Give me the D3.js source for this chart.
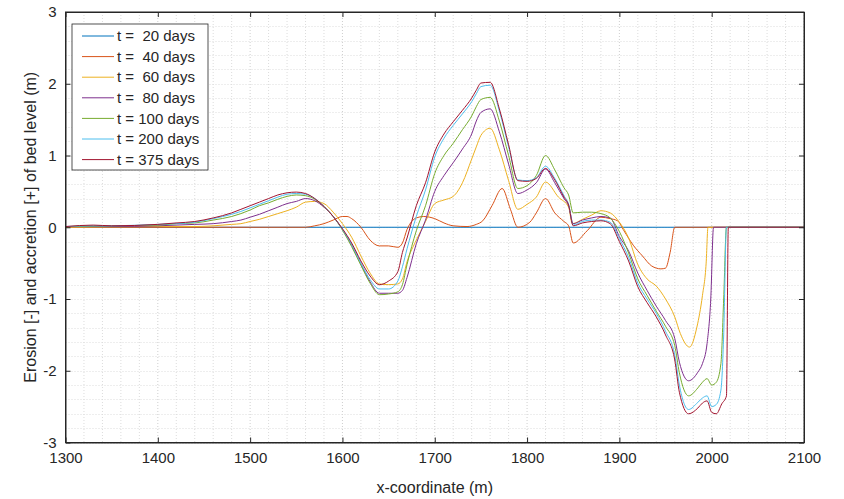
<!DOCTYPE html>
<html>
<head>
<meta charset="utf-8">
<script src="https://cdn.jsdelivr.net/npm/d3@7"></script>
<style>
  body { margin: 0; background: #fff; }
  text { font-family: "Liberation Sans", Arial, sans-serif; fill: #262626; }
</style>
</head>
<body>
<div id="chart"></div>
<script>
// ---- data ----
const labels = ["t =  20 days", "t =  40 days", "t =  60 days", "t =  80 days", "t = 100 days", "t = 200 days", "t = 375 days"];
const colors = ["#0072BD", "#D95319", "#EDB120", "#7E2F8E", "#77AC30", "#4DBEEE", "#A2142F"];

const xTicks = [1300, 1400, 1500, 1600, 1700, 1800, 1900, 2000, 2100];
const yTicks = [-3, -2, -1, 0, 1, 2, 3];

// t = 20 days: flat
const t20 = [[1300, 0], [2100, 0]];

// t = 40 days
const t40 = [[1300, 0], [1560, 0], [1570, 0.02], [1580, 0.05], [1590, 0.10], [1600, 0.15], [1605, 0.15],
  [1610, 0.12], [1620, 0.0], [1630, -0.18], [1640, -0.26], [1650, -0.26], [1660, -0.28], [1665, -0.22],
  [1670, -0.03], [1675, 0.08], [1680, 0.13], [1688, 0.15], [1700, 0.12], [1710, 0.06], [1720, 0.02],
  [1735, 0.01], [1745, 0.04], [1752, 0.09], [1762, 0.30], [1773, 0.54], [1782, 0.25], [1790, 0.0],
  [1803, 0.07], [1810, 0.20], [1820, 0.40], [1830, 0.20], [1840, 0.08], [1845, 0.02], [1850, -0.22],
  [1865, -0.05], [1880, 0.14], [1890, 0.12], [1898, 0.09], [1905, -0.05], [1915, -0.25], [1925, -0.40],
  [1935, -0.54], [1945, -0.58], [1950, -0.57], [1955, -0.35], [1960, 0], [2100, 0]];

// t = 60 days
const t60 = [[1300, 0], [1400, 0.01], [1440, 0.01], [1460, 0.02], [1480, 0.04], [1490, 0.05], [1500, 0.08],
  [1510, 0.11], [1520, 0.15], [1530, 0.19], [1540, 0.23], [1550, 0.28], [1560, 0.35], [1570, 0.36],
  [1580, 0.33], [1590, 0.21], [1600, 0.05], [1610, -0.14], [1620, -0.40], [1630, -0.64], [1640, -0.79],
  [1650, -0.80], [1660, -0.79], [1665, -0.72], [1670, -0.48], [1680, -0.18], [1690, 0.08], [1700, 0.33],
  [1710, 0.38], [1720, 0.43], [1730, 0.62], [1740, 0.95], [1745, 1.12], [1750, 1.28], [1760, 1.38],
  [1770, 1.08], [1780, 0.65], [1790, 0.25], [1800, 0.32], [1810, 0.42], [1820, 0.63], [1834, 0.42],
  [1845, 0.28], [1849, 0.05], [1860, 0.11], [1870, 0.17], [1880, 0.23], [1890, 0.20], [1900, 0.07],
  [1910, -0.15], [1920, -0.52], [1930, -0.72], [1940, -0.82], [1950, -1.00], [1960, -1.25],
  [1966, -1.48], [1976, -1.67], [1984, -1.39], [1990, -0.95], [1994, -0.50], [1996, 0], [2100, 0]];

// t = 80 days
const t80 = [[1300, 0.01], [1350, 0.01], [1400, 0.02], [1420, 0.03], [1440, 0.04], [1460, 0.05], [1480, 0.08],
  [1490, 0.10], [1500, 0.14], [1510, 0.18], [1520, 0.23], [1530, 0.28], [1540, 0.33], [1550, 0.36],
  [1560, 0.40], [1570, 0.37], [1580, 0.28], [1590, 0.15], [1600, -0.03], [1610, -0.25], [1620, -0.51],
  [1630, -0.76], [1640, -0.92], [1650, -0.92], [1660, -0.92], [1665, -0.88], [1670, -0.70], [1680, -0.23],
  [1690, 0.10], [1700, 0.50], [1710, 0.72], [1720, 0.90], [1730, 1.09], [1740, 1.30], [1745, 1.48],
  [1750, 1.60], [1760, 1.65], [1770, 1.33], [1780, 0.88], [1790, 0.47], [1800, 0.52], [1810, 0.62],
  [1820, 0.81], [1830, 0.62], [1840, 0.40], [1845, 0.30], [1850, 0.05], [1860, 0.10], [1870, 0.13],
  [1880, 0.15], [1890, 0.13], [1900, -0.13], [1910, -0.33], [1920, -0.64], [1930, -0.88], [1940, -1.10],
  [1950, -1.30], [1960, -1.55], [1965, -1.88], [1975, -2.14], [1985, -2.02], [1990, -1.90], [1995, -1.62],
  [1999, -1.00], [2002, 0], [2100, 0]];

// t = 100 days
const t100 = [[1300, 0.01], [1350, 0.02], [1400, 0.03], [1420, 0.05], [1440, 0.06], [1460, 0.10], [1480, 0.15],
  [1490, 0.19], [1500, 0.24], [1510, 0.30], [1520, 0.34], [1530, 0.39], [1540, 0.43], [1550, 0.45],
  [1560, 0.44], [1570, 0.39], [1580, 0.29], [1590, 0.15], [1600, -0.04], [1610, -0.27], [1620, -0.53],
  [1630, -0.78], [1640, -0.94], [1650, -0.93], [1660, -0.90], [1665, -0.80], [1670, -0.52], [1680, -0.05],
  [1690, 0.30], [1700, 0.75], [1710, 1.00], [1720, 1.17], [1730, 1.36], [1740, 1.55], [1745, 1.68],
  [1750, 1.78], [1760, 1.81], [1770, 1.48], [1780, 1.00], [1790, 0.54], [1800, 0.58], [1810, 0.72],
  [1820, 1.00], [1830, 0.80], [1840, 0.55], [1845, 0.45], [1850, 0.20], [1860, 0.21], [1870, 0.21],
  [1880, 0.19], [1890, 0.13], [1900, -0.06], [1910, -0.36], [1920, -0.72], [1930, -0.95], [1940, -1.17],
  [1950, -1.38], [1960, -1.65], [1965, -2.03], [1975, -2.35], [1985, -2.24], [1990, -2.16], [1995, -2.11],
  [2000, -2.20], [2005, -2.16], [2010, -1.90], [2013, -1.00], [2016, 0], [2100, 0]];

// t = 200 days
const t200 = [[1300, 0.01], [1330, 0.02], [1350, 0.02], [1400, 0.04], [1420, 0.05], [1440, 0.07], [1460, 0.12],
  [1480, 0.18], [1490, 0.22], [1500, 0.27], [1510, 0.32], [1520, 0.37], [1530, 0.42], [1540, 0.46],
  [1550, 0.47], [1560, 0.46], [1570, 0.40], [1580, 0.29], [1590, 0.15], [1600, -0.03], [1610, -0.24],
  [1620, -0.50], [1630, -0.73], [1640, -0.86], [1650, -0.86], [1660, -0.75], [1665, -0.55], [1670, -0.30],
  [1680, 0.15], [1690, 0.52], [1700, 0.98], [1710, 1.24], [1720, 1.42], [1730, 1.58], [1740, 1.75],
  [1745, 1.86], [1750, 1.96], [1760, 1.98], [1770, 1.62], [1780, 1.12], [1790, 0.66], [1800, 0.65],
  [1810, 0.69], [1820, 0.85], [1830, 0.68], [1840, 0.44], [1845, 0.32], [1850, 0.03], [1860, 0.08],
  [1870, 0.10], [1880, 0.10], [1890, 0.07], [1900, -0.16], [1910, -0.42], [1920, -0.78], [1930, -1.00],
  [1940, -1.20], [1950, -1.45], [1960, -1.78], [1965, -2.20], [1975, -2.54], [1985, -2.44], [1990, -2.38],
  [1995, -2.35], [2000, -2.50], [2005, -2.47], [2010, -2.27], [2013, -1.50], [2016, 0], [2100, 0]];

// t = 375 days
const t375 = [[1300, 0.01], [1330, 0.03], [1350, 0.02], [1400, 0.04], [1420, 0.06], [1440, 0.08], [1460, 0.13],
  [1480, 0.20], [1490, 0.25], [1500, 0.30], [1510, 0.35], [1520, 0.40], [1530, 0.45], [1540, 0.48],
  [1550, 0.49], [1560, 0.47], [1570, 0.40], [1580, 0.29], [1590, 0.15], [1600, -0.02], [1610, -0.22],
  [1620, -0.47], [1630, -0.68], [1640, -0.80], [1650, -0.75], [1660, -0.62], [1665, -0.35], [1670, -0.15],
  [1680, 0.30], [1690, 0.62], [1700, 1.05], [1710, 1.30], [1720, 1.47], [1730, 1.63], [1740, 1.80],
  [1745, 1.91], [1750, 2.01], [1760, 2.02], [1770, 1.65], [1780, 1.15], [1790, 0.65], [1800, 0.64],
  [1810, 0.68], [1820, 0.82], [1830, 0.66], [1840, 0.42], [1845, 0.31], [1850, 0.02], [1860, 0.06],
  [1870, 0.08], [1880, 0.09], [1890, 0.05], [1900, -0.20], [1910, -0.47], [1920, -0.83], [1930, -1.05],
  [1940, -1.25], [1950, -1.50], [1960, -1.85], [1965, -2.30], [1975, -2.60], [1985, -2.52], [1990, -2.45],
  [1995, -2.42], [2000, -2.58], [2005, -2.60], [2011, -2.46], [2016, -2.35], [2018, 0], [2100, 0]];

const series = [t20, t40, t60, t80, t100, t200, t375];

// ---- layout ----
const W = 844, H = 499;
const margin = {top: 12, right: 40, bottom: 56.5, left: 65.5};
const width = W - margin.left - margin.right;
const height = H - margin.top - margin.bottom;

const svg = d3.select("#chart").append("svg")
    .attr("width", W)
    .attr("height", H);

const g = svg.append("g")
    .attr("transform", `translate(${margin.left}, ${margin.top})`);

const x = d3.scaleLinear().domain([1300, 2100]).range([0, width]);
const y = d3.scaleLinear().domain([-3, 3]).range([height, 0]);

// minor grid (dotted)
const xMinor = d3.range(1300, 2101, 20);
const yMinor = d3.range(-3, 3.001, 0.2);

g.append("g").selectAll("line")
    .data(xMinor)
    .enter().append("line")
    .attr("x1", d => x(d)).attr("x2", d => x(d))
    .attr("y1", 0).attr("y2", height)
    .attr("stroke", d => xTicks.includes(d) ? "#cfcfcf" : "#dcdcdc")
    .attr("stroke-width", 1)
    .attr("stroke-dasharray", "1,2");

g.append("g").selectAll("line")
    .data(yMinor)
    .enter().append("line")
    .attr("x1", 0).attr("x2", width)
    .attr("y1", d => Math.round(y(d)) + 0.5).attr("y2", d => Math.round(y(d)) + 0.5)
    .attr("stroke", "#dcdcdc")
    .attr("stroke-width", 1)
    .attr("stroke-dasharray", "1,2");

// lines
const line = d3.line()
    .x(d => x(d[0]))
    .y(d => y(d[1]))
    .curve(d3.curveMonotoneX);

g.append("g").selectAll("path")
    .data(series)
    .enter().append("path")
    .attr("d", line)
    .attr("fill", "none")
    .attr("stroke", (d, i) => colors[i])
    .attr("stroke-width", 1);

// axes (ticks inside, box)
const axisColor = "#262626";
const fmt = d => String(d);
const xAxis = d3.axisBottom(x).tickValues(xTicks).tickFormat(fmt).tickSizeInner(-5).tickSizeOuter(0).tickPadding(10);
const yAxis = d3.axisLeft(y).tickValues(yTicks).tickFormat(fmt).tickSizeInner(-5).tickSizeOuter(0).tickPadding(9);

g.append("g")
    .attr("transform", `translate(0, ${height})`)
    .call(xAxis);
g.append("g").call(yAxis);

g.append("g").call(d3.axisTop(x).tickValues(xTicks).tickSizeInner(-5).tickSizeOuter(0).tickFormat(""));
g.append("g").attr("transform", `translate(${width}, 0)`)
    .call(d3.axisRight(y).tickValues(yTicks).tickSizeInner(-5).tickSizeOuter(0).tickFormat(""));

g.selectAll(".domain").attr("stroke", axisColor);
g.selectAll(".tick line").attr("stroke", axisColor);
g.selectAll(".tick text")
    .style("font-size", "15px")
    .style("font-family", "Liberation Sans, Arial, sans-serif")
    .attr("fill", axisColor);

g.append("rect")
    .attr("width", width).attr("height", height)
    .attr("fill", "none")
    .attr("stroke", axisColor)
    .attr("stroke-width", 1);

// axis labels
svg.append("text")
    .attr("x", margin.left + width / 2)
    .attr("y", 493)
    .attr("text-anchor", "middle")
    .style("font-size", "16px")
    .text("x-coordinate (m)");

svg.append("text")
    .attr("transform", `translate(36, ${margin.top + height / 2}) rotate(-90)`)
    .attr("text-anchor", "middle")
    .style("font-size", "16px")
    .text("Erosion [-] and accretion [+] of bed level (m)");

// legend
const legend = svg.append("g")
    .attr("transform", "translate(72, 24)");

legend.append("rect")
    .attr("width", 136).attr("height", 146)
    .attr("fill", "#fff")
    .attr("stroke", axisColor)
    .attr("stroke-width", 0.8);

const rows = legend.selectAll(".row")
    .data(labels)
    .enter().append("g")
    .attr("class", "row")
    .attr("transform", (d, i) => `translate(0, ${12 + i * 20.6})`);

rows.append("line")
    .attr("x1", 10).attr("x2", 42)
    .attr("stroke", (d, i) => colors[i])
    .attr("stroke-width", 1);

rows.append("text")
    .attr("x", 45)
    .attr("dy", "0.35em")
    .attr("xml:space", "preserve")
    .style("white-space", "pre")
    .style("font-size", "15px")
    .text(d => d);
</script>
</body>
</html>
